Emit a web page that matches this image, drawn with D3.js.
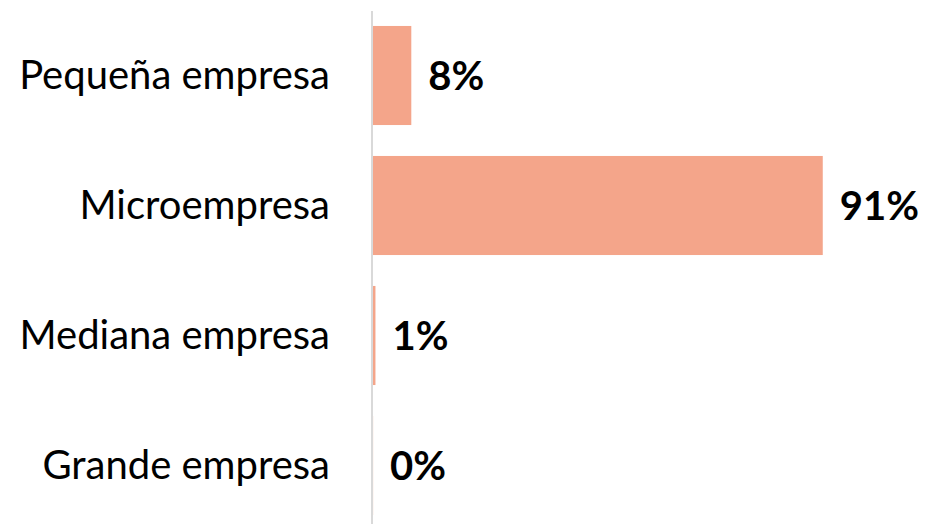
<!DOCTYPE html>
<html><head><meta charset="utf-8">
<script src="https://cdn.jsdelivr.net/npm/d3@7"></script>
<style>body{margin:0;background:#fff}</style>
</head><body>
<svg id="c" width="925" height="524"></svg>
<script>
const categories = ["Pequeña empresa", "Microempresa", "Mediana empresa", "Grande empresa"];
const values = [7.8, 91.6, 0.5, 0.02];
const labels = ["8%", "91%", "1%", "0%"];

const svg = d3.select("#c");
const x = d3.scaleLinear().domain([0, 100]).range([373, 864]);
const y = d3.scaleBand().domain(categories).range([10.5, 530.5]).paddingInner(0.238).paddingOuter(0.119);

svg.selectAll("rect.bar").data(categories).join("rect")
  .attr("class", "bar")
  .attr("x", x(0))
  .attr("y", d => y(d))
  .attr("width", (d, i) => x(values[i]) - x(0))
  .attr("height", y.bandwidth())
  .attr("fill", "#f4a58a");

svg.append("line").attr("x1", 372).attr("x2", 372).attr("y1", 11).attr("y2", 524)
  .attr("stroke", "#d9d9d9").attr("stroke-width", 2);

svg.selectAll("text.cat").data(categories).join("text")
  .attr("class", "cat")
  .attr("x", 330)
  .attr("y", d => y(d) + y.bandwidth() / 2)
  .attr("dy", "0.33em")
  .attr("text-anchor", "end")
  .attr("font-family", "Lato, sans-serif")
  .attr("font-size", 40)
  .attr("fill", "#000")
  .text(d => d);

svg.selectAll("text.val").data(categories).join("text")
  .attr("class", "val")
  .attr("x", (d, i) => x(values[i]) + 17)
  .attr("y", d => y(d) + y.bandwidth() / 2)
  .attr("dy", "0.35em")
  .attr("font-family", "Lato, sans-serif")
  .attr("font-weight", "bold")
  .attr("font-size", 40)
  .attr("fill", "#000")
  .text((d, i) => labels[i]);
</script>
</body></html>
